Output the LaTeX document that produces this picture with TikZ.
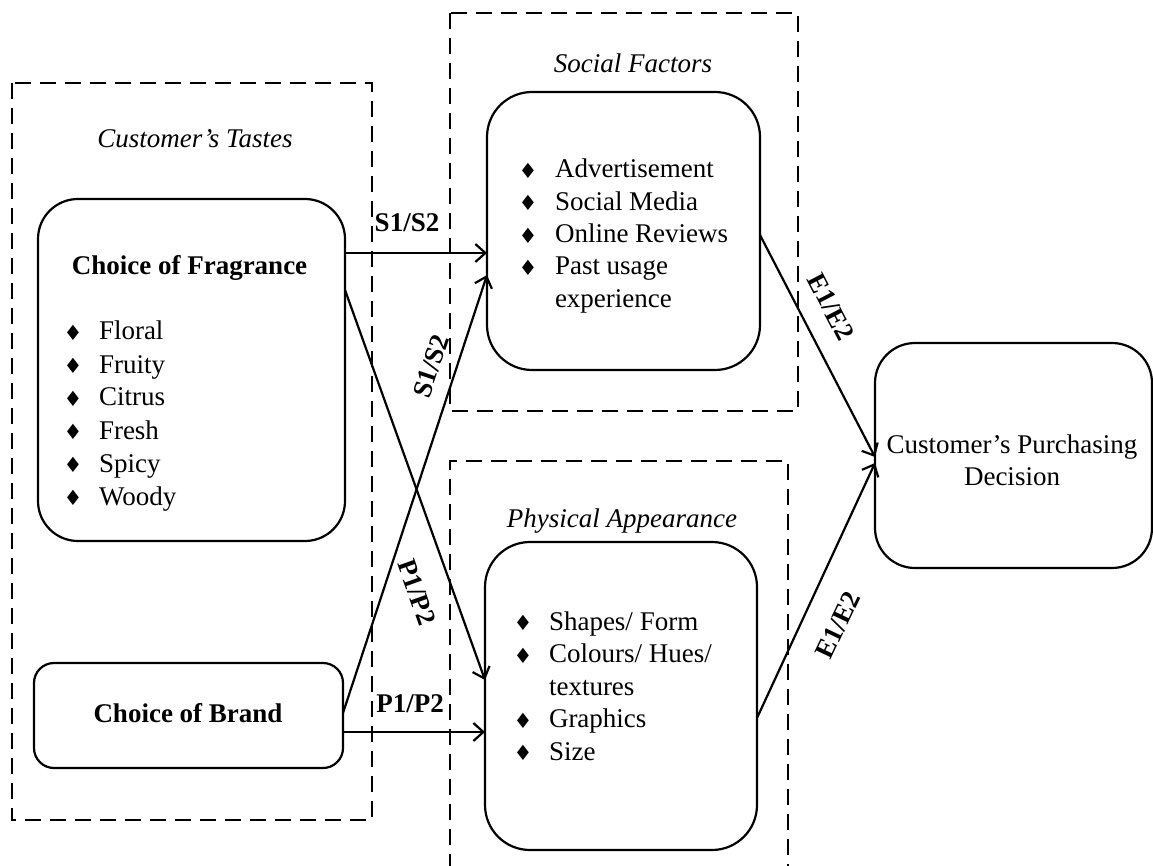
\documentclass[tikz,border=0pt]{standalone}
\usepackage{fontspec}
\setmainfont{Liberation Serif}
\newfontfamily\symfont{DejaVu Sans}
\usetikzlibrary{arrows.meta}
\newcommand{\bul}{{\symfont\fontsize{21}{21}\selectfont\raisebox{-0.5pt}{♦}}}
\newcommand{\bitem}[2]{\makebox[#1][l]{\bul}#2}
\begin{document}
\begin{tikzpicture}[x=1pt,y=-1pt,
  every node/.style={inner sep=0pt, outer sep=0pt},
  grp/.style={draw, line width=2pt, dash pattern=on 16pt off 9pt},
  box/.style={draw, line width=2.2pt, rectangle, rounded corners=#1},
  box/.default=40pt,
  arr/.style={line width=2.2pt, -{Straight Barb[length=10pt,width=18pt,line width=2.2pt]}},
  txt/.style={font=\fontsize{27}{32.5}\selectfont},
  btxt/.style={font=\fontsize{27}{32.5}\selectfont\bfseries},
  itxt/.style={font=\fontsize{27}{32.5}\selectfont\itshape}]
\useasboundingbox (0,0) rectangle (1153,866);

% group frames
\draw[grp] (12,83) rectangle (372,820);
\draw[grp] (450,13) rectangle (798,411);
\draw[grp] (450,870) -- (450,461) -- (788,461) -- (788,870);

% boxes
\node[box=40pt, minimum width=307pt, minimum height=342pt] (frag) at (191.5,370) {};
\node[box=20pt, minimum width=309pt, minimum height=105pt] (brand) at (188.5,715.5) {};
\node[box=45pt, minimum width=273pt, minimum height=278pt] (soc) at (623.5,231) {};
\node[box=45pt, minimum width=272pt, minimum height=308pt] (phys) at (621,696) {};
\node[box=40pt, minimum width=277pt, minimum height=225pt] (cust) at (1013.5,455.5) {};

% connectors
\draw[arr] (frag.east |- 0,253) -- (soc.west |- 0,253);
\draw[arr] (frag.east |- 0,290) -- (phys.west |- 0,680);
\draw[arr] (brand.east |- 0,713) -- (soc.west |- 0,275);
\draw[arr] (brand.east |- 0,732) -- (phys.west |- 0,732);
\draw[arr] (soc.east |- 0,235) -- (cust.west |- 0,457);
\draw[arr] (phys.east |- 0,718) -- (cust.west |- 0,463);

% connector labels
\node[btxt, anchor=base] (l1) at (407,232) {S1/S2};
\node[btxt, anchor=base] (l2) at (410,712) {P1/P2};
\node[btxt, rotate=71.4] (l3) at (431,366) {S1/S2};
\node[btxt, rotate=-70.5] (l4) at (417,592) {P1/P2};
\node[btxt, rotate=-62.6] (l5) at (831,307) {E1/E2};
\node[btxt, rotate=64.6] (l6) at (838,625) {E1/E2};

% titles
\node[itxt, anchor=base] (t1) at (195,148) {Customer’s Tastes};
\node[itxt, anchor=base] (t2) at (633,73) {Social Factors};
\node[itxt, anchor=base] (t3) at (622,527) {Physical Appearance};

% box texts
\node[btxt, anchor=base] (fragt) at (189.5,275) {Choice of Fragrance};
\node[btxt, anchor=base] (brandt) at (188,722) {Choice of Brand};
\node[anchor=base west, font=\fontsize{27}{33}\selectfont] (fragl) at (63.5,340) {\begin{tabular}[t]{@{}l@{}}
\bitem{35.5pt}{Floral}\\
\bitem{35.5pt}{Fruity}\\
\bitem{35.5pt}{Citrus}\\
\bitem{35.5pt}{Fresh}\\
\bitem{35.5pt}{Spicy}\\
\bitem{35.5pt}{Woody}
\end{tabular}};
\node[anchor=base west, font=\fontsize{27}{32.3}\selectfont] (socl) at (518.5,178) {\begin{tabular}[t]{@{}l@{}}
\bitem{36.5pt}{Advertisement}\\
\bitem{36.5pt}{Social Media}\\
\bitem{36.5pt}{Online Reviews}\\
\bitem{36.5pt}{Past usage}\\
\hspace*{36.5pt}experience
\end{tabular}};
\node[anchor=base west, font=\fontsize{27}{32.5}\selectfont] (physl) at (513.5,630) {\begin{tabular}[t]{@{}l@{}}
\bitem{35.5pt}{Shapes/ Form}\\
\bitem{35.5pt}{Colours/ Hues/}\\
\hspace*{35.5pt}textures\\
\bitem{35.5pt}{Graphics}\\
\bitem{35.5pt}{Size}
\end{tabular}};
\node[anchor=base, font=\fontsize{27}{32}\selectfont] (custt) at (1012,453) {\begin{tabular}[t]{@{}c@{}}
Customer’s Purchasing\\
Decision
\end{tabular}};
\end{tikzpicture}
\end{document}
